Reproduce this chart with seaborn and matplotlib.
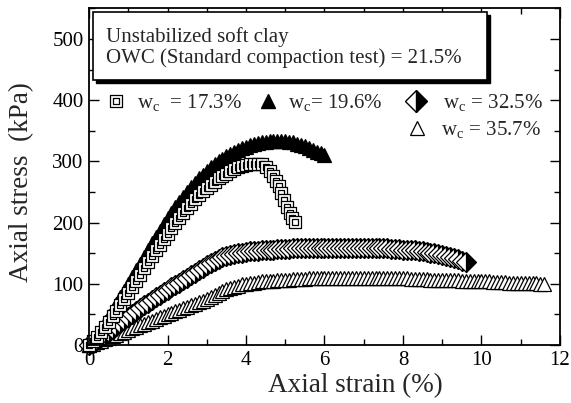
import numpy as np
import matplotlib
matplotlib.use("Agg")
import matplotlib.pyplot as plt
import seaborn as sns
from matplotlib.path import Path
from matplotlib.lines import Line2D
from matplotlib.legend import Legend
from matplotlib.patches import Rectangle

# ---- data (axial strain %, axial stress kPa) ----
strain_173 = [0.0, 0.1, 0.2, 0.3, 0.4, 0.5, 0.6, 0.7, 0.8, 0.9,
              1.0, 1.1, 1.2, 1.3, 1.4, 1.5, 1.6, 1.7, 1.8, 1.9,
              2.0, 2.1, 2.2, 2.3, 2.4, 2.5, 2.6, 2.7, 2.8, 2.9,
              3.0, 3.1, 3.2, 3.3, 3.4, 3.5, 3.6, 3.7, 3.8, 3.9,
              4.0, 4.1, 4.2, 4.3, 4.4, 4.5, 4.6, 4.7, 4.77, 4.83,
              4.9, 4.97, 5.05, 5.12, 5.18, 5.25]
stress_173 = [0, 6, 13, 21, 29, 38, 47, 56, 65, 75,
              85, 95, 105, 115, 125, 135, 145, 155, 164, 173,
              182, 191, 200, 208, 216, 224, 231, 238, 245, 251,
              257, 262, 267, 272, 276, 280, 284, 287, 290, 292,
              294, 295, 296, 296, 295, 291, 285, 276, 268, 259,
              248, 237, 226, 216, 208, 201]

strain_196 = [0.0, 0.1, 0.2, 0.3, 0.4, 0.5, 0.6, 0.7, 0.8, 0.9,
              1.0, 1.1, 1.2, 1.3, 1.4, 1.5, 1.6, 1.7, 1.8, 1.9,
              2.0, 2.1, 2.2, 2.3, 2.4, 2.5, 2.6, 2.7, 2.8, 2.9,
              3.0, 3.1, 3.2, 3.3, 3.4, 3.5, 3.6, 3.7, 3.8, 3.9,
              4.0, 4.1, 4.2, 4.3, 4.4, 4.5, 4.6, 4.7, 4.8, 4.9,
              5.0, 5.1, 5.2, 5.3, 5.4, 5.5, 5.6, 5.7, 5.8, 5.9, 6.0]
stress_196 = [0, 8, 17, 27, 37, 47, 57, 67, 78, 89,
              100, 111, 122, 133, 144, 155, 166, 177, 187, 197,
              207, 216, 225, 234, 242, 250, 258, 265, 272, 278,
              284, 290, 295, 300, 304, 308, 312, 315, 318, 321,
              324, 326, 328, 330, 331, 332, 333, 334, 334, 334,
              333, 332, 331, 329, 327, 325, 322, 319, 316, 313, 310]

strain_325 = [0.0, 0.1, 0.2, 0.3, 0.4, 0.5, 0.6, 0.7, 0.8, 0.9,
              1.0, 1.1, 1.2, 1.3, 1.4, 1.5, 1.6, 1.7, 1.8, 1.9,
              2.0, 2.1, 2.2, 2.3, 2.4, 2.5, 2.6, 2.7, 2.8, 2.9,
              3.0, 3.1, 3.2, 3.3, 3.4, 3.5, 3.6, 3.7, 3.8, 3.9,
              4.0, 4.1, 4.2, 4.3, 4.4, 4.5, 4.6, 4.7, 4.8, 4.9,
              5.0, 5.1, 5.2, 5.3, 5.4, 5.5, 5.6, 5.7, 5.8, 5.9,
              6.0, 6.1, 6.2, 6.3, 6.4, 6.5, 6.6, 6.7, 6.8, 6.9,
              7.0, 7.1, 7.2, 7.3, 7.4, 7.5, 7.6, 7.7, 7.8, 7.9,
              8.0, 8.1, 8.2, 8.3, 8.4, 8.5, 8.6, 8.7, 8.8, 8.9,
              9.0, 9.1, 9.2, 9.3, 9.4, 9.5, 9.6]
stress_325 = [0, 4, 8, 13, 17, 22, 26, 31, 36, 41,
              46, 50, 55, 60, 65, 69, 74, 78, 82, 86,
              90, 94, 98, 102, 106, 110, 114, 118, 122, 126,
              130, 134, 138, 141, 143, 145, 147, 148, 150, 151,
              152, 153, 154, 154, 155, 155, 156, 156, 157, 157,
              157, 157, 158, 158, 158, 158, 158, 159, 159, 159,
              159, 159, 159, 159, 159, 159, 159, 159, 159, 159,
              159, 158, 158, 158, 158, 158, 158, 157, 157, 157,
              156, 156, 155, 155, 154, 153, 152, 151, 150, 149,
              147, 146, 144, 142, 140, 138, 135]

strain_357 = [0.0, 0.1, 0.2, 0.3, 0.4, 0.5, 0.6, 0.7, 0.8, 0.9,
              1.0, 1.1, 1.2, 1.3, 1.4, 1.5, 1.6, 1.7, 1.8, 1.9,
              2.0, 2.1, 2.2, 2.3, 2.4, 2.5, 2.6, 2.7, 2.8, 2.9,
              3.0, 3.1, 3.2, 3.3, 3.4, 3.5, 3.6, 3.7, 3.8, 3.9,
              4.0, 4.1, 4.2, 4.3, 4.4, 4.5, 4.6, 4.7, 4.8, 4.9,
              5.0, 5.1, 5.2, 5.3, 5.4, 5.5, 5.6, 5.7, 5.8, 5.9,
              6.0, 6.1, 6.2, 6.3, 6.4, 6.5, 6.6, 6.7, 6.8, 6.9,
              7.0, 7.1, 7.2, 7.3, 7.4, 7.5, 7.6, 7.7, 7.8, 7.9,
              8.0, 8.1, 8.2, 8.3, 8.4, 8.5, 8.6, 8.7, 8.8, 8.9,
              9.0, 9.1, 9.2, 9.3, 9.4, 9.5, 9.6, 9.7, 9.8, 9.9,
              10.0, 10.1, 10.2, 10.3, 10.4, 10.5, 10.6, 10.7, 10.8, 10.9,
              11.0, 11.1, 11.2, 11.3, 11.4, 11.5, 11.6]
stress_357 = [0, 2, 5, 7, 10, 12, 15, 17, 20, 22,
              25, 27, 30, 32, 35, 37, 40, 42, 45, 47,
              50, 52, 55, 57, 60, 62, 65, 67, 70, 72,
              75, 78, 81, 85, 88, 91, 93, 95, 97, 99,
              100, 101, 102, 103, 104, 104, 105, 105, 106, 106,
              107, 107, 108, 108, 108, 108, 109, 109, 109, 109,
              109, 109, 109, 110, 110, 110, 110, 110, 110, 110,
              110, 110, 110, 110, 110, 109, 109, 109, 109, 109,
              109, 109, 108, 108, 108, 108, 108, 107, 107, 107,
              107, 106, 106, 106, 106, 105, 105, 105, 105, 104,
              104, 104, 104, 103, 103, 103, 103, 102, 102, 102,
              102, 101, 101, 101, 101, 100, 100]

labels = [r"w$_\mathregular{c}$  = 17.3%", r"w$_\mathregular{c}$= 19.6%",
          r"w$_\mathregular{c}$ = 32.5%", r"w$_\mathregular{c}$ = 35.7%"]

# ---- style ----
sns.set_style("ticks")
plt.rcParams["font.family"] = ["Liberation Serif", "DejaVu Serif"]
plt.rcParams["mathtext.fontset"] = "custom"
plt.rcParams["mathtext.rm"] = "Liberation Serif"

# square with an inner square (double square marker)
dbl_square = Path(
    [(-1, -1), (1, -1), (1, 1), (-1, 1), (-1, -1),
     (-0.45, -0.45), (0.45, -0.45), (0.45, 0.45), (-0.45, 0.45), (-0.45, -0.45)],
    [Path.MOVETO, Path.LINETO, Path.LINETO, Path.LINETO, Path.CLOSEPOLY,
     Path.MOVETO, Path.LINETO, Path.LINETO, Path.LINETO, Path.CLOSEPOLY])

fig = plt.figure(figsize=(5.71, 4.03), dpi=100)
ax = fig.add_axes([0.1559, 0.1439, 0.9807 - 0.1559, 0.9794 - 0.1439])

common = dict(linestyle="", markeredgecolor="black", markeredgewidth=0.9,
              estimator=None, sort=False, clip_on=False, ax=ax)

sns.lineplot(x=strain_357, y=stress_357, marker="^", markersize=10,
             markerfacecolor="white", **common)
sns.lineplot(x=strain_325, y=stress_325, marker="D", markersize=10.5,
             fillstyle="right", markerfacecolor="black",
             markerfacecoloralt="white", **common)
sns.lineplot(x=strain_196, y=stress_196, marker="^", markersize=10,
             markerfacecolor="black", **common)
sns.lineplot(x=strain_173, y=stress_173, marker=dbl_square, markersize=9,
             markerfacecolor="white", **common)

ax.set_xlim(0, 12)
ax.set_ylim(0, 550)
ax.set_xticks([0, 2, 4, 6, 8, 10, 12])
ax.set_xticks(range(0, 13), minor=True)
ax.set_yticks([0, 100, 200, 300, 400, 500])
ax.set_yticks(range(0, 551, 50), minor=True)
ax.tick_params(which="both", direction="in", top=True, right=True,
               width=1, labelsize=15, colors="black")
ax.tick_params(which="major", length=7)
ax.tick_params(which="minor", length=4)
ax.tick_params(axis="x", pad=4)
ax.tick_params(axis="y", pad=4)
for s in ax.spines.values():
    s.set_linewidth(1.3)
    s.set_color("black")

ax.set_xlabel("Axial strain (%)", fontsize=19.5)
ax.set_ylabel("Axial stress  (kPa)", fontsize=19.5)
ax.xaxis.set_label_coords(0.565, -0.083)
ax.yaxis.set_label_coords(-0.117, 0.484)

# text box with black drop shadow
bx, by, bw, bh = 0.0075, 0.787, 0.8376, 0.201
ax.add_patch(Rectangle((bx + 0.0066, by - 0.009), bw, bh, transform=ax.transAxes,
                       facecolor="black", edgecolor="black", zorder=5, clip_on=False))
ax.add_patch(Rectangle((bx, by), bw, bh, transform=ax.transAxes,
                       facecolor="white", edgecolor="black", linewidth=1.2,
                       zorder=6, clip_on=False))
ax.text(0.036, 0.916, "Unstabilized soft clay", transform=ax.transAxes,
        fontsize=15, va="center", ha="left", zorder=7)
ax.text(0.036, 0.851, "OWC (Standard compaction test) = 21.5%",
        transform=ax.transAxes, fontsize=15, va="center", ha="left", zorder=7)

# legend entries, each placed on its own
handles = [
    Line2D([], [], linestyle="", marker=dbl_square, markersize=8.5,
           markerfacecolor="white", markeredgecolor="black", markeredgewidth=0.9),
    Line2D([], [], linestyle="", marker="^", markersize=10,
           markerfacecolor="black", markeredgecolor="black"),
    Line2D([], [], linestyle="", marker="D", markersize=11, fillstyle="right",
           markerfacecolor="black", markerfacecoloralt="white",
           markeredgecolor="black", markeredgewidth=1.0),
    Line2D([], [], linestyle="", marker="^", markersize=10,
           markerfacecolor="white", markeredgecolor="black", markeredgewidth=0.9),
]
spots = [(0.0352, 0.719, 0.51), (0.358, 0.719, 0.46),
         (0.672, 0.719, 0.80), (0.674, 0.639, 0.65)]
for h, lab, (lx, ly, pad) in zip(handles, labels, spots):
    leg = Legend(ax, [h], [lab], loc="center left", bbox_to_anchor=(lx, ly),
                 frameon=False, fontsize=15, borderpad=0, borderaxespad=0,
                 handlelength=1.0, handletextpad=pad)
    ax.add_artist(leg)

fig.savefig("out.png", dpi=100)
